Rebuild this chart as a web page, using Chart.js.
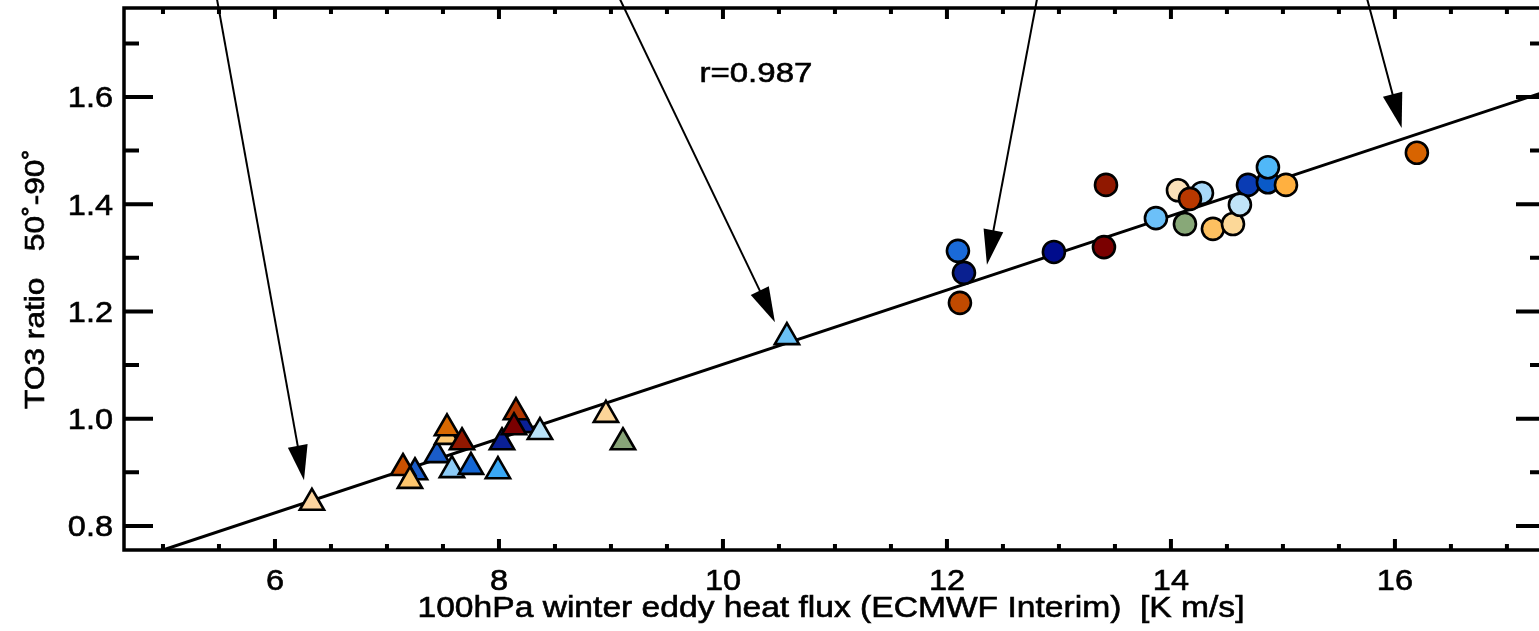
<!DOCTYPE html>
<html>
<head>
<meta charset="utf-8">
<script src="https://cdn.jsdelivr.net/npm/chart.js@4.4.1/dist/chart.umd.min.js"></script>
<style>
  html, body { margin: 0; padding: 0; background: #fff; overflow: hidden; }
  #wrap { position: relative; width: 1560px; height: 631px; }
</style>
</head>
<body>
<div id="wrap"><canvas id="chart"></canvas></div>
<script>
// triangles (one per model, earlier period)
const triX = [6.33, 7.25, 7.143, 7.205, 7.446, 7.536, 7.536, 7.67, 7.58, 7.75, 7.991, 8.027, 8.214, 8.152, 8.134, 8.366, 8.955, 9.107, 10.571];
const triY = [0.843, 0.900, 0.908, 0.884, 0.932, 0.966, 0.982, 0.956, 0.904, 0.910, 0.902, 0.956, 0.988, 1.012, 0.984, 0.975, 1.007, 0.956, 1.152];
const triColor = ["#fcd5a0", "#1a5cc8", "#c85000", "#fdc66e", "#1a5cc8", "#fdc66e", "#d86800", "#921800", "#8ccaf5", "#1466d4",
  "#3aa8f5", "#0a2096", "#0a2096", "#b03600", "#7a0000", "#b8e2f8", "#fcd598", "#88a478", "#6ac0f5"];

// circles (one per model, later period)
const circX = [12.098, 12.152, 12.116, 12.955, 13.42, 13.402, 13.866, 14.125, 14.063, 14.277, 14.17, 14.375, 14.554, 14.688, 14.616, 14.866, 14.866, 15.027, 16.196];
const circY = [1.313, 1.272, 1.216, 1.311, 1.436, 1.320, 1.374, 1.363, 1.426, 1.421, 1.410, 1.354, 1.363, 1.436, 1.399, 1.441, 1.469, 1.436, 1.496];
const circColor = ["#1a6ad8", "#0a2090", "#c04a00", "#000c8c", "#901800", "#7a0000", "#6cc0f8", "#88a878", "#fbe0b8", "#a8d8f8",
  "#b83800", "#fdc060", "#fcd898", "#0a3cb4", "#c0e4f8", "#0a5ac8", "#50b8f8", "#ffb040", "#d86400"];

// regression line end points
const fitX = [5.0, 17.4];
const fitY = [0.755, 1.614];

// arrows coming from the (cut off) labels above the plot
const arrowFromX = [5.467, 9.04, 12.82, 15.73];
const arrowFromY = [1.80, 1.80, 1.80, 1.80];
const arrowToX = [6.259, 10.464, 12.357, 16.06];
const arrowToY = [0.885, 1.180, 1.287, 1.542];

const xTickVals = [6, 8, 10, 12, 14, 16];
const yTickVals = [0.8, 1.0, 1.2, 1.4, 1.6];
const corrText = "r=0.987";
const corrX = 9.79, corrY = 1.647;
const xTitle = "100hPa winter eddy heat flux (ECMWF Interim)  [K m/s]";
const yTitle = "TO3 ratio   50\u02DA-90\u02DA";

const FONT = '"Liberation Sans", Arial, sans-serif';

function drawText (ctx, str, x, y, size, align, sx, rot) {
  ctx.save();
  ctx.translate(x, y);
  if (rot) ctx.rotate(rot);
  ctx.scale(sx, 1);
  ctx.font = size + "px " + FONT;
  ctx.textAlign = align;
  ctx.textBaseline = "alphabetic";
  ctx.fillStyle = "#000";
  ctx.strokeStyle = "#000";
  ctx.lineWidth = 0.6;
  ctx.fillText(str, 0, 0);
  ctx.strokeText(str, 0, 0);
  ctx.restore();
}

function fitScale (ctx, str, size, target) {
  ctx.save();
  ctx.font = size + "px " + FONT;
  const w = ctx.measureText(str).width;
  ctx.restore();
  return target / w;
}

const framePlugin = {
  id: "frame",
  afterDraw (chart) {
    const { ctx, chartArea: a, scales: { x, y } } = chart;
    ctx.save();

    // arrows
    ctx.strokeStyle = "#000";
    ctx.fillStyle = "#000";
    for (let i = 0; i < arrowToX.length; i++) {
      const fx = x.getPixelForValue(arrowFromX[i]), fy = y.getPixelForValue(arrowFromY[i]);
      const tx = x.getPixelForValue(arrowToX[i]), ty = y.getPixelForValue(arrowToY[i]);
      const len = Math.hypot(tx - fx, ty - fy);
      const ux = (tx - fx) / len, uy = (ty - fy) / len;
      const hl = 35, hw = 10;
      const bx = tx - ux * hl, by = ty - uy * hl;
      ctx.lineWidth = 2;
      ctx.beginPath();
      ctx.moveTo(fx, fy);
      ctx.lineTo(bx + ux * 2, by + uy * 2);
      ctx.stroke();
      ctx.beginPath();
      ctx.moveTo(tx, ty);
      ctx.lineTo(bx - uy * hw, by + ux * hw);
      ctx.lineTo(bx + uy * hw, by - ux * hw);
      ctx.closePath();
      ctx.fill();
    }

    // box
    ctx.lineWidth = 3.5;
    ctx.strokeRect(a.left, a.top, a.right - a.left, a.bottom - a.top);

    // ticks, pointing inwards
    ctx.lineWidth = 4;
    ctx.lineCap = "butt";
    ctx.beginPath();
    for (let v = 5.0; v <= x.max; v += 0.5) {
      const px = x.getPixelForValue(v);
      const major = xTickVals.includes(v);
      const l = major ? 11 : 6;
      ctx.moveTo(px, a.bottom); ctx.lineTo(px, a.bottom - l);
      ctx.moveTo(px, a.top); ctx.lineTo(px, a.top + l);
    }
    for (let k = 8; k <= 17; k++) {
      const v = k / 10;
      const py = y.getPixelForValue(v);
      const major = k % 2 === 0;
      const l = major ? 29 : 15;
      ctx.moveTo(a.left, py); ctx.lineTo(a.left + l, py);
      ctx.moveTo(a.right, py); ctx.lineTo(a.right - l, py);
    }
    ctx.stroke();

    // tick labels
    xTickVals.forEach(v => {
      drawText(ctx, String(v), x.getPixelForValue(v), a.bottom + 40, 29, "center", 1.12);
    });
    yTickVals.forEach(v => {
      drawText(ctx, v.toFixed(1), a.left - 11, y.getPixelForValue(v) + 10.5, 29, "right", 1.12);
    });

    // axis titles
    const sxX = fitScale(ctx, xTitle, 29, 827);
    drawText(ctx, xTitle, 831, 617, 29, "center", sxX);
    const sxY = fitScale(ctx, yTitle, 28, 260);
    drawText(ctx, yTitle, 44, (a.top + a.bottom) / 2, 28, "center", sxY, -Math.PI / 2);

    // correlation
    drawText(ctx, corrText, x.getPixelForValue(corrX), y.getPixelForValue(corrY) + 10, 28, "left", 1.18);

    ctx.restore();
  }
};

const toPoints = (xs, ys) => xs.map((v, i) => ({ x: v, y: ys[i] }));

new Chart(document.getElementById("chart"), {
  type: "scatter",
  data: {
    datasets: [
      {
        data: toPoints(circX, circY),
        pointStyle: "circle",
        pointRadius: 11,
        backgroundColor: circColor,
        borderColor: "#000",
        borderWidth: 2.6
      },
      {
        data: toPoints(triX, triY),
        pointStyle: "triangle",
        pointRadius: 14,
        backgroundColor: triColor,
        borderColor: "#000",
        borderWidth: 2.6
      },
      {
        type: "line",
        data: toPoints(fitX, fitY),
        showLine: true,
        pointRadius: 0,
        borderColor: "#000",
        borderWidth: 3,
        fill: false
      }
    ]
  },
  options: {
    responsive: true,
    maintainAspectRatio: false,
    animation: false,
    events: [],
    layout: { autoPadding: false, padding: { top: 8, right: 15, left: 0, bottom: 0 } },
    plugins: { legend: { display: false }, tooltip: { enabled: false } },
    scales: {
      x: {
        type: "linear",
        min: 4.652,
        max: 17.34,
        grid: { display: false },
        border: { display: false },
        ticks: { display: false },
        afterBuildTicks: s => { s.ticks = xTickVals.map(v => ({ value: v })); },
        afterFit: s => { s.height = 81; }
      },
      y: {
        type: "linear",
        min: 0.755,
        max: 1.766,
        grid: { display: false },
        border: { display: false },
        ticks: { display: false },
        afterBuildTicks: s => { s.ticks = yTickVals.map(v => ({ value: v })); },
        afterFit: s => { s.width = 124; }
      }
    }
  },
  plugins: [framePlugin]
});
</script>
</body>
</html>
